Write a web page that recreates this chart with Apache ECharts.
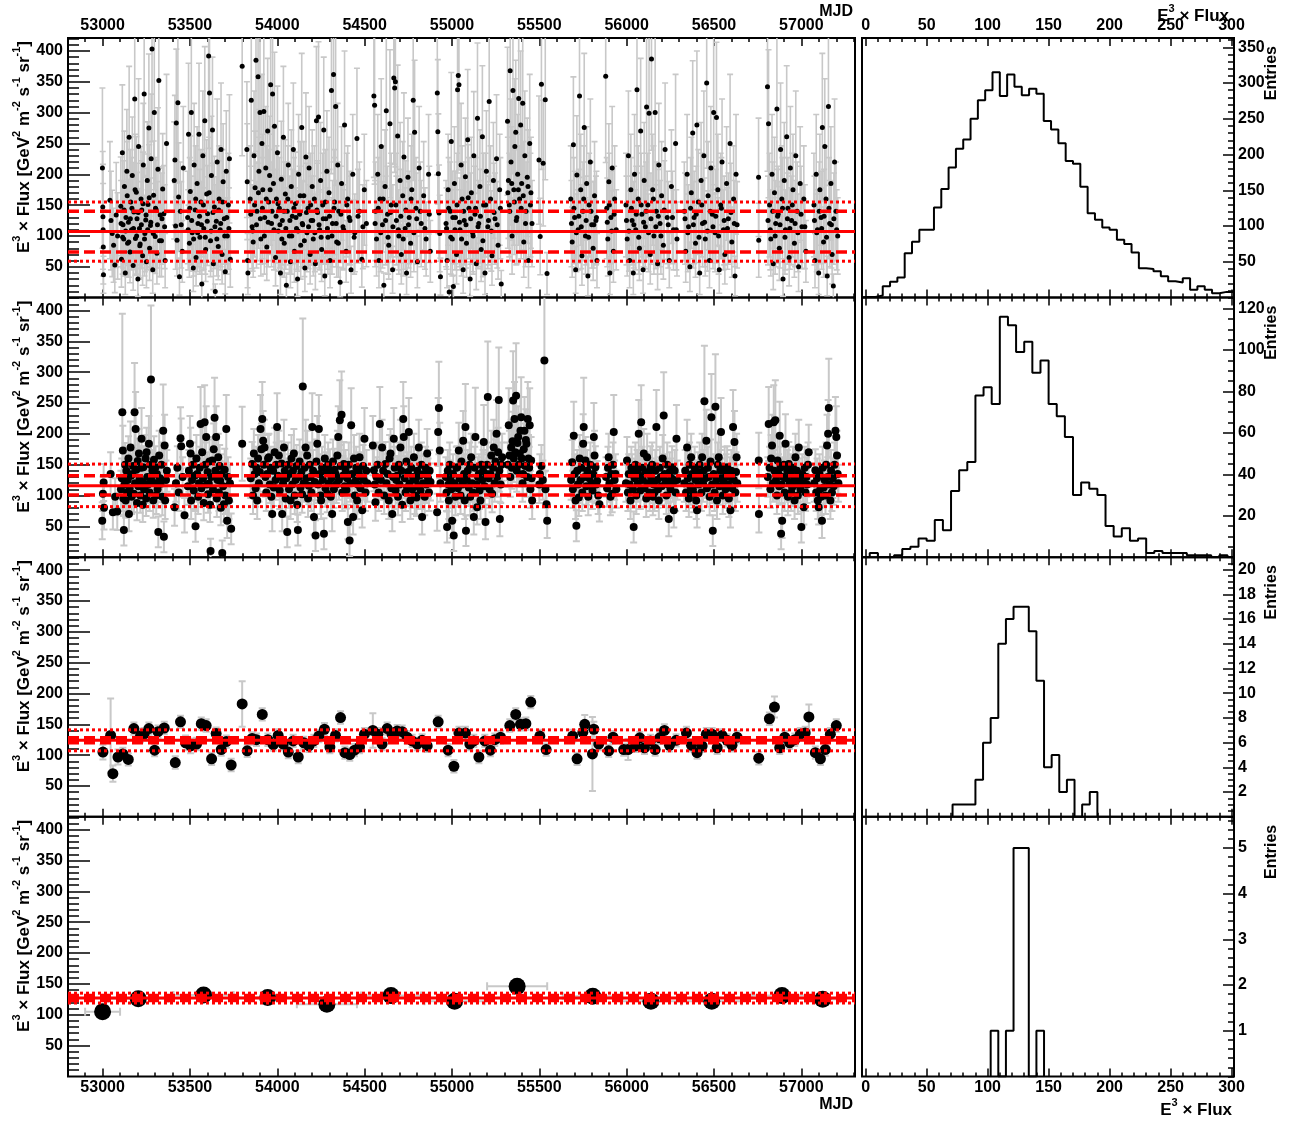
<!DOCTYPE html>
<html><head><meta charset="utf-8">
<script src="https://cdn.jsdelivr.net/npm/echarts@6/dist/echarts.min.js"></script>
<style>html,body{margin:0;padding:0;background:#fff}#c{width:1300px;height:1121px}</style>
</head><body><div id="c"></div>
<script>
// ---------- DATA: [MJD, E^3 x Flux, error] ----------
const row1Points = [
[52999,210,130],[53001,147,90],[53002,131,85],[53003,110,75],[53004,82,60],[53005,37,30],
[53042,158,95],[53048,125,80],[53055,104,70],[53063,85,60],[53070,53,45],[53078,134,85],[53086,100,70],
[53104,148,80],[53108,62,45],[53113,235,110],[53117,118,70],[53121,95,60],[53125,180,90],[53130,40,35],[53134,130,75],[53139,205,100],[53143,88,55],[53148,122,70],[53152,260,115],[53157,74,50],[53161,155,85],[53166,110,65],[53170,198,95],[53175,52,40],[53179,139,80],[53184,322,130],[53188,96,60],[53193,171,90],[53197,128,75],[53202,30,28],[53206,245,110],[53211,112,65],[53215,87,55],[53220,160,85],[53224,142,80],[53229,68,48],[53233,215,100],[53238,330,135],[53242,104,62],[53247,126,72],[53251,58,42],[53256,190,95],[53260,151,82],[53265,275,120],[53269,80,52],[53274,117,68],[53278,225,105],[53283,403,150],[53287,45,38],[53292,166,88],[53296,300,125],[53301,99,60],[53306,143,80],[53311,72,50],[53317,208,100],[53322,352,140],[53330,134,76],[53337,92,58],[53344,176,90],[53351,136,78],[53358,60,44],[53366,250,112],
[53106,120,70],[53115,98,60],[53123,142,80],[53132,108,65],[53141,165,88],[53150,90,57],[53159,128,74],[53168,145,82],[53177,112,66],[53186,175,90],[53195,100,62],[53204,138,80],[53213,84,54],[53222,118,70],[53231,152,84],[53240,95,60],[53249,134,76],[53258,110,65],[53267,162,86],[53276,122,72],[53290,104,62],[53303,145,82],[53314,118,70],[53326,92,58],[53340,128,74],[53355,115,68],
[53410,190,95],[53414,223,105],[53418,116,70],[53422,283,120],[53426,93,58],[53431,316,130],[53435,163,88],[53440,34,30],[53445,140,80],[53450,118,70],[53456,75,50],[53462,210,100],
[53487,130,75],[53492,265,115],[53497,88,55],[53502,172,90],[53508,300,125],[53513,105,62],[53519,48,38],[53524,215,100],[53530,142,80],[53535,65,46],[53541,185,92],[53546,120,70],[53552,265,115],[53557,98,60],[53563,155,85],[53568,22,22],[53574,230,105],[53579,112,66],[53585,287,120],[53590,78,52],[53596,168,88],[53601,136,78],[53607,392,150],[53612,332,135],[53618,92,58],[53623,198,96],[53629,272,118],[53634,55,42],[53640,147,82],[53645,10,12],[53651,124,72],[53656,220,102],[53662,83,54],[53667,160,86],[53673,110,65],[53678,240,108],[53684,70,48],[53690,188,94],[53696,128,74],[53702,42,36],[53708,205,98],[53714,100,62],[53720,150,84],[53726,225,104],[53731,62,45],
[53490,110,65],[53499,145,82],[53510,125,72],[53521,95,60],[53533,160,86],[53544,105,63],[53555,132,76],[53566,118,70],[53577,150,84],[53588,98,60],[53599,124,72],[53610,170,90],[53621,108,65],[53632,138,80],[53643,115,68],[53654,95,60],[53665,142,80],[53676,120,70],[53687,155,85],[53699,100,62],[53711,130,75],[53723,112,66],
[53799,375,145],[53826,240,110],[53828,188,94],[53830,60,44],[53832,40,35],
[53845,160,86],[53851,320,130],[53856,115,68],[53862,90,57],[53867,230,105],[53873,178,92],[53878,385,148],[53884,140,80],[53890,358,140],[53895,205,100],[53901,300,125],[53906,95,60],[53912,250,112],[53917,175,90],[53923,302,126],[53928,130,75],[53934,210,100],[53940,82,54],[53945,270,118],[53951,155,85],[53956,198,96],[53962,345,138],[53967,120,70],[53973,330,135],[53978,185,92],[53984,278,120],[53990,65,46],[53995,160,86],[54001,235,108],[54006,108,65],[54012,145,82],[54018,40,35],[54023,192,94],[54029,125,72],[54035,260,115],[54040,88,55],[54046,168,88],[54052,20,20],[54057,140,80],[54063,215,100],[54069,100,62],[54075,58,42],[54080,180,92],[54086,132,76],[54092,240,108],[54098,75,50],[54104,152,84],[54110,112,66],[54116,30,28],[54122,200,97],[54128,135,78],[54134,85,55],[54140,276,120],[54146,118,70],[54152,165,88],[54158,48,38],[54164,228,104],[54170,105,63],[54176,145,82],[54182,210,100],[54188,70,48],[54194,125,72],[54200,180,92],[54206,95,60],[54212,160,86],[54218,55,42],[54224,287,120],[54230,138,80],[54236,293,122],[54242,110,65],[54248,190,94],[54254,78,52],[54260,150,84],[54266,272,118],[54272,35,32],[54278,128,74],[54284,205,98],[54290,98,60],[54296,170,90],[54302,60,44],[54310,336,135],[54316,120,70],[54322,362,142],[54328,155,85],[54334,310,128],[54340,90,57],[54346,215,100],[54352,140,80],[54360,25,24],[54368,185,92],[54376,115,68],[54385,280,120],[54394,75,50],[54403,160,86],[54412,130,75],[54422,45,38],[54432,200,97],[54444,105,63],[54456,258,114],[54470,140,80],[54484,62,45],[54498,175,90],[54510,120,70],
[53848,135,78],[53859,108,65],[53870,150,84],[53881,118,70],[53892,170,90],[53903,128,74],[53915,145,82],[53926,100,62],[53937,160,86],[53948,122,72],[53959,175,90],[53970,140,80],[53981,110,65],[53993,132,76],[54004,152,84],[54015,118,70],[54026,95,60],[54038,140,80],[54049,112,66],[54060,160,86],[54072,125,72],[54083,100,62],[54095,145,82],[54107,130,75],[54119,108,65],[54131,165,88],[54143,120,70],[54155,92,58],[54167,138,80],[54179,115,68],[54191,150,84],[54203,125,72],[54215,105,63],[54227,142,80],[54239,118,70],[54251,98,60],[54263,128,74],[54275,155,85],[54287,112,66],[54299,132,76],[54313,100,62],[54325,145,82],[54337,120,70],[54349,88,55],[54364,135,78],[54380,110,65],[54398,150,84],[54416,125,72],[54440,98,60],[54462,132,76],[54490,115,68],
[54553,327,132],[54557,312,128],[54562,140,80],[54568,95,60],[54575,200,97],[54582,60,44],[54588,160,86],[54595,245,110],[54602,118,70],[54610,20,20],[54617,180,92],[54624,303,126],[54631,135,78],[54638,85,55],[54645,282,120],[54652,150,84],[54660,45,38],[54667,356,140],[54672,340,137],[54676,350,138],[54682,125,72],[54689,262,115],[54696,100,62],[54703,190,94],[54710,70,48],[54718,165,88],[54725,228,104],[54732,112,66],[54740,40,35],[54748,195,96],[54755,130,75],[54763,88,55],[54770,175,90],[54778,320,130],[54786,268,117],[54794,145,82],[54802,58,42],[54812,210,100],[54824,120,70],[54838,165,88],[54852,95,60],[54866,200,97],[54876,75,50],
[54560,120,70],[54578,145,82],[54592,105,63],[54606,160,86],[54620,125,72],[54634,98,60],[54648,138,80],[54662,115,68],[54679,150,84],[54693,110,65],[54707,132,76],[54721,95,60],[54736,142,80],[54751,118,70],[54766,160,86],[54782,105,63],[54798,128,74],[54818,140,80],[54845,112,66],[54870,135,78],
[54916,332,133],[54919,269,117],[54922,201,97],[54926,137,78],[54930,104,62],[54934,34,30],
[54966,120,70],[54972,60,44],[54978,175,90],[54984,9,10],[54990,140,80],[54996,253,112],[55002,95,60],[55008,18,18],[55014,185,92],[55020,130,75],[55026,70,48],[55032,337,135],[55036,360,140],[55040,345,138],[55046,110,65],[55052,215,100],[55058,160,86],[55064,45,38],[55070,125,72],[55077,196,95],[55083,88,55],[55090,256,114],[55097,145,82],[55104,30,28],[55111,170,90],[55118,105,63],[55125,230,104],[55132,135,78],[55139,55,42],[55146,291,122],[55153,120,70],[55160,180,92],[55167,78,52],[55174,261,115],[55181,150,84],[55189,40,35],[55197,205,98],[55205,115,68],[55213,318,130],[55221,160,86],[55229,68,48],[55237,190,94],[55246,128,74],[55255,225,104],[55264,85,55],[55273,175,90],[55282,22,22],
[54969,112,66],[54981,145,82],[54993,98,60],[55005,130,75],[55017,110,65],[55029,150,84],[55043,122,72],[55055,95,60],[55067,140,80],[55080,118,70],[55093,162,86],[55107,128,74],[55121,100,62],[55135,145,82],[55149,115,68],[55163,132,76],[55177,92,58],[55193,150,84],[55209,125,72],[55225,108,65],[55241,138,80],[55259,118,70],[55277,145,82],
[55318,286,120],[55323,190,94],[55328,150,84],[55333,368,142],[55338,220,102],[55344,100,62],[55349,336,135],[55354,175,90],[55360,245,110],[55365,268,117],[55371,130,75],[55376,200,97],[55382,323,130],[55387,160,86],[55393,280,120],[55399,185,92],[55405,315,128],[55411,90,57],[55417,230,105],[55424,140,80],[55431,195,96],[55438,60,44],[55445,250,112],[55452,170,90],[55458,120,70],
[55320,170,90],[55331,140,80],[55342,185,92],[55357,155,85],[55368,125,72],[55380,175,90],[55396,145,82],[55408,165,88],[55421,120,70],[55435,180,92],[55449,150,84],
[55498,223,104],[55505,99,62],[55512,346,138],[55522,218,102],[55534,321,130],[55544,39,34],
[55680,160,86],[55688,90,57],[55695,248,110],[55702,130,75],[55708,45,38],[55715,199,96],[55722,110,65],[55730,327,132],[55737,175,90],[55744,68,48],[55750,140,80],[55757,276,120],[55764,100,62],[55771,185,92],[55778,35,32],[55785,150,84],[55792,220,102],[55800,118,70],[55808,80,52],[55816,165,88],[55824,125,72],[55830,60,44],[55880,359,140],[55886,145,82],[55892,95,60],[55898,188,94],[55904,40,35],[55910,130,75],[55917,210,100],[55924,75,50],[55931,160,86],[55940,110,65],
[55684,120,70],[55698,145,82],[55712,105,63],[55726,132,76],[55740,115,68],[55754,160,86],[55768,125,72],[55782,98,60],[55796,140,80],[55812,118,70],[55827,130,75],[55889,122,72],[55901,150,84],[55914,108,65],[55928,135,78],
[55996,150,84],[56003,95,60],[56010,230,105],[56017,60,44],[56024,175,90],[56031,125,72],[56038,40,35],[56045,200,97],[56052,110,65],[56059,337,135],[56066,160,86],[56073,80,52],[56080,270,118],[56087,135,78],[56094,45,38],[56100,190,94],[56107,115,68],[56114,309,128],[56121,150,84],[56128,299,125],[56135,70,48],[56142,387,148],[56149,175,90],[56156,100,62],[56163,300,125],[56170,140,80],[56177,55,42],[56184,215,100],[56191,120,70],[56200,165,88],[56210,85,55],[56220,240,108],[56232,130,75],[56244,60,44],[56256,180,92],[56268,110,65],[56280,250,112],[56288,95,60],
[55999,125,72],[56013,108,65],[56027,145,82],[56041,118,70],[56055,135,78],[56069,98,60],[56083,150,84],[56097,122,72],[56111,140,80],[56125,105,63],[56139,128,74],[56153,160,86],[56167,115,68],[56181,132,76],[56196,100,62],[56215,142,80],[56238,118,70],[56262,130,75],[56284,110,65],
[56330,140,80],[56338,75,50],[56346,200,97],[56354,115,68],[56362,50,40],[56370,170,90],[56378,267,117],[56386,130,75],[56394,88,55],[56402,280,120],[56410,155,85],[56418,40,35],[56426,190,94],[56434,120,70],[56442,230,105],[56450,95,60],[56458,348,138],[56466,165,88],[56474,60,44],[56482,210,100],[56490,135,78],[56498,300,125],[56506,105,63],[56514,292,122],[56522,175,90],[56530,45,38],[56538,150,84],[56546,220,102],[56554,110,65],[56562,70,48],[56572,185,92],[56582,128,74],[56592,250,112],[56602,90,57],[56612,160,86],[56620,35,32],[56626,200,97],[56632,118,70],
[56334,128,74],[56350,105,63],[56366,145,82],[56382,118,70],[56398,135,78],[56414,98,60],[56430,150,84],[56446,122,72],[56462,108,65],[56478,140,80],[56494,115,68],[56510,132,76],[56526,100,62],[56542,145,82],[56558,125,72],[56577,112,66],[56597,138,80],[56616,120,70],
[56755,195,96],[56756,93,60],
[56806,342,137],[56812,282,120],[56818,150,84],[56825,95,60],[56832,200,97],[56839,55,42],[56846,170,90],[56853,120,70],[56860,306,126],[56867,135,78],[56874,80,52],[56881,240,108],[56888,160,86],[56895,30,28],[56902,190,94],[56909,110,65],[56916,261,115],[56923,145,82],[56930,65,46],[56937,210,100],[56944,125,72],[56952,175,90],[56960,88,55],[56968,230,105],[56976,140,80],[56984,50,40],[56993,185,92],[57003,115,68],[57014,160,86],[57026,75,50],
[56809,125,72],[56822,110,65],[56836,140,80],[56850,100,62],[56864,132,76],[56878,118,70],[56892,145,82],[56906,98,60],[56920,128,74],[56934,112,66],[56948,150,84],[56964,120,70],[56980,105,63],[56998,135,78],[57020,115,68],
[57072,150,84],[57078,60,44],[57085,200,97],[57092,110,65],[57099,40,35],[57106,175,90],[57113,130,75],[57120,276,120],[57127,90,57],[57134,245,110],[57141,160,86],[57148,35,32],[57155,310,128],[57162,120,70],[57169,185,92],[57176,70,48],[57183,19,19],[57190,220,102],[57198,140,80],[57208,100,62],
[57075,125,72],[57088,105,63],[57102,140,80],[57116,112,66],[57130,132,76],[57144,98,60],[57158,145,82],[57172,118,70],[57186,128,74],[57202,110,65]
];

const row2Points = [
[52998,59,30],[53002,103,28],[53006,121,30],[53008,80,35],
[53046,135,35],[53059,73,28],[53072,98,30],[53084,74,30],
[53105,110,30],[53110,128,32],[53113,235,160],[53116,173,40],[53119,95,28],[53122,44,25],[53126,118,30],[53129,150,35],[53132,92,28],[53136,140,32],[53140,105,30],[53144,125,30],[53148,160,36],[53151,70,28],[53155,112,30],[53160,178,42],[53163,132,32],[53166,98,28],[53170,135,32],[53174,148,34],[53179,103,30],[53183,235,80],[53186,120,30],[53189,208,60],[53193,142,34],[53197,88,28],[53201,156,36],[53205,115,30],[53208,168,40],[53212,128,32],[53216,100,28],[53220,145,34],[53223,192,50],[53227,122,30],[53230,85,28],[53233,146,34],[53237,110,30],[53242,113,30],[53246,160,38],[53249,95,28],[53252,170,40],[53256,130,32],[53260,118,30],[53265,184,45],[53269,105,30],[53273,150,36],[53277,288,120],[53281,125,32],[53285,140,34],[53290,92,28],[53294,158,38],[53298,120,30],[53303,146,34],[53307,100,30],[53311,135,32],[53315,110,30],[53319,41,25],[53324,165,40],[53328,128,32],[53332,119,30],[53337,150,36],[53342,98,30],[53347,205,75],[53351,33,25],[53355,181,50],[53358,92,30],[53363,125,32],[53368,140,34],
[53412,81,30],[53420,120,30],[53428,145,35],[53436,105,30],[53446,193,50],[53450,180,45],[53458,130,32],[53469,68,28],
[53488,115,30],[53494,140,34],[53500,184,45],[53504,168,42],[53507,92,30],[53512,125,32],[53517,150,36],[53522,108,30],[53527,132,32],[53532,50,25],[53537,160,38],[53542,135,32],[53547,98,28],[53552,120,30],[53556,145,34],[53561,216,60],[53566,112,30],[53570,170,40],[53575,128,32],[53579,88,28],[53584,219,60],[53588,150,36],[53593,195,50],[53597,118,30],[53601,138,32],[53604,102,30],[53608,119,30],[53612,155,36],[53615,85,28],[53618,10,20],[53622,130,32],[53628,157,38],[53632,110,30],[53636,175,42],[53641,226,65],[53645,140,34],[53650,195,50],[53654,95,30],[53658,125,32],[53662,162,38],[53666,105,30],[53670,148,34],[53673,124,32],[53677,80,28],[53681,135,32],[53685,7,20],[53690,115,30],[53694,86,28],[53699,142,34],[53703,100,30],[53708,208,55],[53713,59,28],[53718,130,32],[53723,92,30],[53729,120,30],[53736,46,25],
[53799,184,60],
[53848,128,32],[53856,151,36],[53861,100,30],[53866,168,40],[53871,135,32],[53876,112,30],[53880,145,34],[53885,92,30],[53890,160,38],[53895,120,30],[53900,138,32],[53904,208,55],[53909,175,42],[53914,224,60],[53919,189,48],[53923,150,36],[53927,178,45],[53932,130,32],[53937,105,30],[53942,135,32],[53947,160,38],[53952,162,38],[53957,118,30],[53962,145,34],[53966,98,30],[53971,70,28],[53976,140,34],[53980,113,30],[53985,170,40],[53990,125,32],[53994,150,36],[53999,211,55],[54004,132,32],[54009,165,40],[54014,108,30],[54019,130,32],[54024,152,36],[54028,70,28],[54033,120,30],[54038,178,45],[54043,140,34],[54048,95,30],[54052,128,32],[54057,41,25],[54062,150,36],[54067,110,30],[54071,135,32],[54076,92,30],[54081,160,38],[54086,118,30],[54090,140,34],[54095,168,40],[54100,100,30],[54105,125,32],[54110,148,34],[54114,85,28],[54118,44,25],[54123,130,32],[54128,155,36],[54133,113,30],[54138,138,32],[54142,102,30],[54146,277,110],[54151,120,30],[54156,145,34],[54162,178,45],[54166,128,32],[54171,165,40],[54176,95,30],[54181,116,30],[54186,150,36],[54190,130,32],[54195,105,30],[54200,211,55],[54205,140,34],[54210,65,28],[54215,122,30],[54219,35,25],[54224,155,36],[54229,184,45],[54233,118,30],[54238,208,55],[54242,135,32],[54247,100,30],[54251,92,30],[54256,145,34],[54261,125,32],[54267,38,25],[54272,160,38],[54276,112,30],[54281,138,32],[54286,103,30],[54291,150,36],[54296,120,30],[54301,141,34],[54306,98,30],[54310,128,32],[54314,70,28],[54319,155,36],[54324,110,30],[54328,142,34],[54333,135,32],[54338,118,30],[54344,165,40],[54349,195,50],[54353,125,32],[54358,222,65],[54363,148,34],[54368,231,70],[54372,105,30],[54376,132,32],[54381,151,36],[54386,115,30],[54391,140,34],[54396,109,30],[54400,128,32],[54404,57,28],[54409,150,36],[54414,27,25],[54418,120,30],[54423,214,60],[54428,135,32],[54434,65,28],[54439,160,38],[54444,100,30],[54448,124,32],[54452,145,34],[54457,92,30],[54462,118,30],[54466,138,32],[54471,162,38],[54476,112,30],[54481,130,32],[54486,76,28],[54491,148,34],[54495,125,32],[54499,192,50],[54505,105,30],[54510,140,34],[54515,120,30],
[54547,181,48],[54553,141,34],[54558,118,30],[54562,89,30],[54568,130,32],[54574,150,36],[54580,105,30],[54587,216,60],[54593,125,32],[54600,178,45],[54606,140,34],[54612,100,30],[54619,151,36],[54625,120,30],[54632,135,32],[54638,92,30],[54643,160,38],[54648,168,40],[54653,112,30],[54658,70,28],[54663,130,32],[54667,192,50],[54672,145,34],[54677,108,30],[54681,125,32],[54686,132,32],[54691,98,30],[54696,150,36],[54700,118,30],[54705,178,45],[54710,140,34],[54715,85,28],[54721,224,60],[54724,195,50],[54729,128,32],[54734,105,30],[54739,155,36],[54743,113,30],[54748,138,32],[54753,203,55],[54757,120,30],[54762,92,30],[54767,145,34],[54772,110,30],[54777,130,32],[54782,162,38],[54787,100,30],[54792,125,32],[54797,97,30],[54802,140,34],[54806,115,30],[54810,178,45],[54815,132,32],[54820,108,30],[54825,150,36],[54829,65,28],[54834,120,30],[54839,135,32],[54844,98,30],[54849,145,34],[54853,118,30],[54858,168,40],[54863,128,32],[54868,105,30],[54872,140,34],[54877,122,30],
[54915,73,30],[54921,203,55],[54925,242,75],[54930,173,45],[54934,120,30],
[54965,130,32],[54969,105,30],[54972,49,25],[54976,140,34],[54980,118,30],[54982,92,30],[54987,150,36],[54992,125,32],[54997,110,30],[55001,59,28],[55006,135,32],[55010,35,25],[55015,120,30],[55020,98,30],[55025,145,34],[55030,146,34],[55034,112,30],[55039,173,45],[55044,128,32],[55049,100,30],[55054,155,36],[55059,118,30],[55064,189,48],[55069,135,32],[55073,92,30],[55077,211,70],[55080,43,25],[55085,125,32],[55090,140,34],[55096,113,30],[55101,150,36],[55105,98,30],[55110,162,38],[55115,120,30],[55120,105,30],[55125,65,28],[55130,145,34],[55134,195,80],[55139,118,30],[55144,81,28],[55149,130,32],[55154,135,32],[55158,108,30],[55163,92,30],[55168,150,36],[55173,125,32],[55178,140,34],[55182,187,60],[55187,115,30],[55192,57,28],[55197,135,32],[55201,150,36],[55205,260,90],[55210,128,32],[55215,110,30],[55220,135,32],[55225,165,40],[55230,103,30],[55235,145,34],[55239,178,45],[55244,120,30],[55249,155,36],[55255,200,55],[55259,130,32],[55264,170,40],[55268,255,85],[55271,140,34],[55274,62,28],[55279,118,30],[55283,150,36],[55287,162,38],
[55320,150,36],[55325,214,60],[55329,165,40],[55334,130,32],[55339,178,45],[55343,145,34],[55347,188,48],[55350,254,80],[55354,160,38],[55358,224,60],[55362,170,40],[55367,262,85],[55371,140,34],[55375,185,48],[55379,195,50],[55383,150,36],[55388,168,40],[55392,205,55],[55396,227,65],[55400,160,38],[55404,120,30],[55407,135,32],[55411,175,42],[55415,205,55],[55419,148,34],[55423,190,50],[55426,184,48],[55430,130,32],[55434,224,60],[55438,160,38],[55442,145,34],[55445,214,60],[55449,110,30],[55453,157,38],[55456,128,32],[55459,92,30],
[55500,118,30],[55503,135,32],[55512,148,34],[55520,125,32],[55529,319,180],[55535,110,30],[55541,86,28],[55545,59,28],
[55682,125,32],[55688,154,36],[55692,110,30],[55697,197,55],[55702,135,32],[55707,92,30],[55712,51,25],[55717,140,34],[55721,118,30],[55726,97,30],[55731,160,38],[55736,125,32],[55741,145,34],[55746,105,30],[55751,184,48],[55754,211,80],[55759,130,32],[55764,157,38],[55769,115,30],[55774,140,34],[55780,98,30],[55786,128,32],[55792,150,36],[55798,120,30],[55804,108,30],[55808,135,32],[55812,195,55],[55816,165,40],[55821,146,34],[55826,118,30],[55831,124,32],[55837,100,30],[55844,86,28],[55882,130,32],[55888,112,30],[55893,145,34],[55897,162,38],[55902,120,30],[55907,98,30],[55912,135,32],[55917,103,30],[55922,150,36],[55926,203,60],[55931,125,32],[55936,135,32],[55941,110,30],
[55996,120,30],[56002,157,38],[56007,105,30],[56012,135,32],[56017,118,30],[56022,92,30],[56027,145,34],[56031,135,32],[56036,110,30],[56040,49,25],[56045,128,32],[56050,150,36],[56055,100,30],[56060,140,34],[56064,120,30],[56069,200,55],[56074,132,32],[56078,108,30],[56083,219,60],[56088,145,34],[56093,125,32],[56098,168,40],[56102,112,30],[56107,138,32],[56112,95,30],[56117,162,38],[56122,120,30],[56127,135,32],[56131,105,30],[56136,146,34],[56141,128,32],[56146,150,36],[56150,98,30],[56155,118,30],[56159,105,30],[56164,140,34],[56170,211,60],[56175,125,32],[56180,110,30],[56184,92,30],[56190,145,34],[56195,130,32],[56200,115,30],[56206,160,38],[56212,230,70],[56217,135,32],[56222,124,32],[56227,100,30],[56232,150,36],[56237,118,30],[56241,62,28],[56246,138,32],[56251,110,30],[56256,128,32],[56260,146,34],[56265,120,30],[56270,76,28],[56275,140,34],[56280,105,30],[56285,192,55],[56290,125,32],
[56330,120,30],[56335,140,34],[56340,105,30],[56346,178,45],[56351,128,32],[56356,95,30],[56360,150,36],[56365,115,30],[56369,162,38],[56374,135,32],[56379,110,30],[56384,103,30],[56389,145,34],[56394,125,32],[56398,92,30],[56403,76,28],[56408,138,32],[56413,118,30],[56418,150,36],[56423,130,32],[56428,105,30],[56432,162,38],[56437,120,30],[56441,140,34],[56445,253,90],[56450,128,32],[56456,189,50],[56460,112,30],[56465,145,34],[56470,130,32],[56475,98,30],[56480,155,36],[56485,227,70],[56489,118,30],[56493,43,25],[56498,135,32],[56503,105,30],[56508,244,85],[56513,125,32],[56517,92,30],[56522,150,36],[56527,162,38],[56531,115,30],[56536,140,34],[56540,203,55],[56545,128,32],[56550,100,30],[56556,122,30],[56561,145,34],[56566,110,30],[56570,135,32],[56575,146,34],[56580,118,30],[56585,95,30],[56590,130,32],[56594,76,28],[56599,140,34],[56604,112,30],[56609,211,60],[56613,125,32],[56617,187,50],[56622,105,30],[56626,138,32],[56629,162,38],[56633,120,30],
[56756,157,45],[56757,70,30],
[56808,130,32],[56813,216,60],[56818,145,34],[56823,110,30],[56827,160,38],[56832,181,50],[56837,120,30],[56842,219,60],[56846,140,34],[56851,222,65],[56855,125,32],[56860,100,30],[56864,157,38],[56869,135,32],[56873,115,30],[56876,197,55],[56880,145,34],[56884,38,25],[56887,118,30],[56890,59,28],[56895,130,32],[56900,150,36],[56904,105,30],[56909,184,48],[56914,128,32],[56919,140,34],[56923,98,30],[56928,151,36],[56933,120,30],[56938,135,32],[56942,105,30],[56947,113,30],[56952,145,34],[56957,125,32],[56961,92,30],[56966,162,38],[56971,118,30],[56975,140,34],[56980,100,30],[56985,178,45],[56990,128,32],[56995,110,30],[57000,49,25],[57005,135,32],[57009,120,30],[57014,81,28],[57019,145,34],[57024,105,30],[57029,130,32],[57033,118,30],[57038,150,36],[57042,170,45],
[57074,120,30],[57080,141,34],[57085,105,30],[57090,128,32],[57094,92,30],[57099,81,28],[57104,135,32],[57108,110,30],[57113,98,30],[57118,59,28],[57122,145,34],[57128,113,30],[57133,125,32],[57138,100,30],[57142,150,36],[57147,181,50],[57151,130,32],[57153,200,55],[57157,242,80],[57161,118,30],[57166,92,30],[57170,140,34],[57175,105,30],[57180,128,32],[57185,115,30],[57190,150,36],[57195,205,55],[57200,195,50],[57204,165,40],[57208,135,32],[57212,120,30]
];

const row3Points = [
[53002,105,12],[53046,132,60],[53059,70,13],[53088,97,12],[53116,102,10],[53147,93,10],[53179,143,10],[53217,131,10],[53237,134,10],[53265,143,10],[53298,108,10],[53317,138,10],[53353,144,10],[53416,88,10],[53446,154,10],[53475,120,12],[53504,115,12],[53538,118,10],[53565,151,10],[53593,148,10],[53624,94,10],[53650,135,10],[53679,109,10],[53708,122,10],[53736,84,10],[53799,183,37],[53828,107,10],[53856,127,10],[53881,125,10],[53914,166,10],[53946,125,10],[53977,117,10],[54005,132,10],[54034,118,10],[54063,105,10],[54091,123,10],[54120,97,10],[54152,120,10],[54181,115,10],[54209,123,10],[54238,131,10],[54270,142,10],[54301,113,10],[54333,132,10],[54362,161,10],[54387,104,10],[54415,101,10],[54442,108,10],[54471,113,10],[54499,134,10],[54547,140,28],[54576,134,10],[54600,118,10],[54629,143,10],[54657,134,10],[54686,139,10],[54715,138,10],[54743,129,10],[54772,123,10],[54801,118,10],[54829,124,10],[54858,115,10],[54921,154,10],[54978,108,10],[55011,82,10],[55040,136,10],[55077,136,10],[55102,118,10],[55125,123,10],[55154,97,10],[55188,123,10],[55220,108,10],[55245,125,10],[55278,129,10],[55331,148,10],[55365,166,10],[55392,150,10],[55423,151,10],[55451,186,10],[55503,131,10],[55539,109,10],[55691,131,10],[55716,94,10],[55749,137,10],[55760,150,15],[55804,102,60],[55812,142,12],[55840,118,10],[55897,107,10],[55922,129,10],[55983,109,10],[56008,109,17],[56050,115,10],[56075,128,10],[56102,112,10],[56136,123,10],[56163,109,10],[56189,128,10],[56216,140,10],[56245,116,10],[56283,124,10],[56342,136,10],[56371,116,10],[56403,104,10],[56432,115,10],[56456,134,10],[56489,134,10],[56518,112,10],[56546,132,10],[56575,124,10],[56603,116,10],[56632,129,10],[56756,95,10],[56817,159,10],[56846,178,17],[56876,112,10],[56905,129,10],[56933,120,10],[56962,125,10],[56994,134,10],[57022,136,10],[57043,162,20],[57080,104,10],[57109,94,10],[57137,109,10],[57166,134,10],[57200,148,10]
];

// [MJD, flux, error, MJD half-width]
const row4Points = [
[53000,105,4,100],[53204,126,4,172],[53578,132,4,172],[53945,128,4,172],[54284,117,4,172],[54651,131,4,172],[55015,122,4,172],[55373,146,4,172],[55806,130,4,172],[56139,122,4,172],[56487,122,4,172],[56889,131,4,172],[57122,125,4,100]
];

// Fit lines: [mean, +dashed, -dashed, +dotted, -dotted]
const row1Lines = [107, 140, 74, 155, 59];
const row2Lines = [116, 132, 101, 151, 82];
const row3Lines = [124, 128, 120, 141, 107];
const row4Lines = [127, 131, 123, 135, 119];

// Histograms (E^3 x Flux distribution): first bin low edge, bin width, counts
const hist1Start = -4, hist1Width = 6;
const hist1Counts = [1,1,3,16,22,28,62,78,95,95,126,152,182,208,221,250,276,290,315,282,312,295,283,292,285,247,235,216,191,187,155,118,109,98,95,81,75,63,41,40,37,30,23,21,27,11,16,11,6,8,8];
const hist2Start = -10/3, hist2Width = 20/3;
const hist2Counts = [0,2,0,0,1,4,5,9,8,18,13,32,42,46,78,82,74,116,112,99,104,89,95,74,68,58,30,36,33,30,15,10,14,8,9,2,3,2,2,2,1,1,1,0,1,0];
const hist3Start = 71.25, hist3Width = 6.25;
const hist3Counts = [1,1,1,3,6,8,14,16,17,17,15,11,4,5,2,3,0,1,2];
const hist4Start = 102.5, hist4Width = 6.25;
const hist4Counts = [1,0,1,5,5,0,1];

// Tick labels
const mjdTicks = [53000,53500,54000,54500,55000,55500,56000,56500,57000];
const fluxTicks = [50,100,150,200,250,300,350,400];
const histXTicks = [0,50,100,150,200,250,300];
const histYTicks = [[50,100,150,200,250,300,350],[20,40,60,80,100,120],[2,4,6,8,10,12,14,16,18,20],[1,2,3,4,5]];

// ---------- LAYOUT ----------
const FONT = 'Liberation Sans';
const ROW_TOP = 38, ROW_H = 259.6;
const LX = 68, LW = 787, RX = 862, RW = 372;
const MJD_MIN = 52802, MJD_MAX = 57307, FLUX_MAX = 421;
const HX_MIN = -3, HX_MAX = 302;
const HY_MAX = [363, 125.3, 21.0, 5.68];
const HY_MINOR = [10, 5, 0.5, 0.2];

function seq(a, b, s) { const r = []; for (let i = 0; a + i * s <= b + 1e-9; i++) r.push(+(a + i * s).toFixed(4)); return r; }
function minors(a, b, s, majors) { return seq(a, b, s).filter(v => !majors.some(m => Math.abs(m - v) < 1e-6)); }

const grids = [], xAxes = [], yAxes = [], series = [];
const labelStyle = { color: '#000', fontFamily: FONT, fontWeight: 'bold', fontSize: 16, formatter: v => String(v) };

function addAxis(list, grid, pos, min, max, ticks, len, labels, margin) {
  list.push({
    type: 'value', gridIndex: grid, position: pos, min: min, max: max,
    axisLine: { show: false, onZero: false }, splitLine: { show: false },
    axisTick: { show: true, inside: true, length: len, customValues: ticks, lineStyle: { color: '#000', width: 1.5 } },
    axisLabel: labels ? Object.assign({ show: true, customValues: labels, margin: margin }, labelStyle) : { show: false }
  });
  return list.length - 1;
}

const rowPoints = [row1Points, row2Points, row3Points, row4Points];
const rowLines = [row1Lines, row2Lines, row3Lines, row4Lines];
const hists = [[hist1Start, hist1Width, hist1Counts], [hist2Start, hist2Width, hist2Counts], [hist3Start, hist3Width, hist3Counts], [hist4Start, hist4Width, hist4Counts]];
const markSize = [5, 8, 11, 17];
const errW = [1.6, 2, 2, 2];
const capW = [6, 7, 7, 8];

const mjdMinor = minors(52900, 57300, 100, mjdTicks);
const fluxMinor = minors(10, 420, 10, fluxTicks);
const hxMinor = minors(0, 300, 10, histXTicks);

function errRender(r) {
  return function (params, api) {
    const x = api.value(0), y = api.value(1), e = api.value(2), ex = api.value(3) || 0;
    const st = { stroke: '#c8c8c8', lineWidth: errW[r] };
    const lo = Math.max(y - e, 0), hi = Math.min(y + e, FLUX_MAX);
    const a = api.coord([x, lo]), b = api.coord([x, hi]);
    const c = capW[r] / 2;
    const ch = [{ type: 'line', shape: { x1: a[0], y1: a[1], x2: b[0], y2: b[1] }, style: st }];
    if (y - e > 0) ch.push({ type: 'line', shape: { x1: a[0] - c, y1: a[1], x2: a[0] + c, y2: a[1] }, style: st });
    if (y + e < FLUX_MAX) ch.push({ type: 'line', shape: { x1: b[0] - c, y1: b[1], x2: b[0] + c, y2: b[1] }, style: st });
    if (ex) {
      const l = api.coord([x - ex, y]), rr = api.coord([x + ex, y]);
      ch.push({ type: 'line', shape: { x1: l[0], y1: l[1], x2: rr[0], y2: rr[1] }, style: st });
      ch.push({ type: 'line', shape: { x1: l[0], y1: l[1] - c, x2: l[0], y2: l[1] + c }, style: st });
      ch.push({ type: 'line', shape: { x1: rr[0], y1: rr[1] - c, x2: rr[0], y2: rr[1] + c }, style: st });
    }
    return { type: 'group', children: ch };
  };
}

const lineStyles = [
  { width: 3, type: 'solid' },
  { width: 3.5, type: [11, 5] }, { width: 3.5, type: [11, 5] },
  { width: 3, type: [3, 3] }, { width: 3, type: [3, 3] }
];

for (let r = 0; r < 4; r++) {
  const top = ROW_TOP + r * ROW_H;
  grids.push({ left: LX, top: top, width: LW, height: ROW_H, show: true, borderColor: '#000', borderWidth: 2, backgroundColor: 'transparent' });
  grids.push({ left: RX, top: top, width: RW, height: ROW_H, show: true, borderColor: '#000', borderWidth: 2, backgroundColor: 'transparent' });
  const gL = 2 * r, gR = 2 * r + 1;

  const xb = addAxis(xAxes, gL, 'bottom', MJD_MIN, MJD_MAX, mjdTicks, 8, r === 3 ? mjdTicks : null, 3);
  addAxis(xAxes, gL, 'bottom', MJD_MIN, MJD_MAX, mjdMinor, 4, null, 0);
  addAxis(xAxes, gL, 'top', MJD_MIN, MJD_MAX, mjdTicks, 8, r === 0 ? mjdTicks : null, 4);
  addAxis(xAxes, gL, 'top', MJD_MIN, MJD_MAX, mjdMinor, 4, null, 0);
  const yl = addAxis(yAxes, gL, 'left', 0, FLUX_MAX, fluxTicks, 22, fluxTicks, 5);
  addAxis(yAxes, gL, 'left', 0, FLUX_MAX, fluxMinor, 11, null, 0);

  const hx = addAxis(xAxes, gR, 'bottom', HX_MIN, HX_MAX, histXTicks, 8, r === 3 ? histXTicks : null, 3);
  addAxis(xAxes, gR, 'bottom', HX_MIN, HX_MAX, hxMinor, 4, null, 0);
  addAxis(xAxes, gR, 'top', HX_MIN, HX_MAX, histXTicks, 8, r === 0 ? histXTicks : null, 4);
  addAxis(xAxes, gR, 'top', HX_MIN, HX_MAX, hxMinor, 4, null, 0);
  const hy = addAxis(yAxes, gR, 'right', 0, HY_MAX[r], histYTicks[r], 11, histYTicks[r], 4);
  addAxis(yAxes, gR, 'right', 0, HY_MAX[r], minors(0, HY_MAX[r], HY_MINOR[r], histYTicks[r]), 6, null, 0);

  const pts = rowPoints[r];
  series.push({ type: 'custom', xAxisIndex: xb, yAxisIndex: yl, data: pts, renderItem: errRender(r), encode: { x: 0, y: 1 }, clip: true, silent: true, z: 1 });
  series.push({ type: 'scatter', xAxisIndex: xb, yAxisIndex: yl, data: pts.map(p => [p[0], p[1]]), symbol: 'circle', symbolSize: markSize[r], itemStyle: { color: '#000', opacity: 1 }, silent: true, z: 2, large: false });
  rowLines[r].forEach((v, i) => {
    series.push({ type: 'line', xAxisIndex: xb, yAxisIndex: yl, data: [[MJD_MIN, v], [MJD_MAX, v]], symbol: 'none', silent: true, z: 3,
      lineStyle: { color: '#ff0000', width: lineStyles[i].width, type: lineStyles[i].type, cap: 'butt' } });
  });

  const [hs, hw, hc] = hists[r];
  const step = [[hs, 0]];
  hc.forEach((c, k) => { step.push([hs + k * hw, c], [hs + (k + 1) * hw, c]); });
  step.push([hs + hc.length * hw, 0]);
  series.push({ type: 'line', xAxisIndex: hx, yAxisIndex: hy, data: step, symbol: 'none', silent: true, clip: true, z: 2,
    lineStyle: { color: '#000', width: 2 } });
}

// ---------- TEXT ----------
const richBase = {
  n: { fontSize: 17, fontWeight: 'bold', fontFamily: FONT, fill: '#000', color: '#000', lineHeight: 22, verticalAlign: 'bottom' },
  s: { fontSize: 11, fontWeight: 'bold', fontFamily: FONT, fill: '#000', color: '#000', lineHeight: 22, verticalAlign: 'top' }
};
const yTitle = '{n|E}{s|3}{n| × Flux [GeV}{s|2}{n| m}{s|-2}{n| s}{s|-1}{n| sr}{s|-1}{n|]}';
const hTitle = '{n|E}{s|3}{n| × Flux}';
const graphics = [];
for (let r = 0; r < 4; r++) {
  const top = ROW_TOP + r * ROW_H;
  graphics.push({ type: 'text', x: 22, y: top + 3, rotation: Math.PI / 2,
    style: { text: yTitle, rich: richBase, align: 'right', verticalAlign: 'middle' } });
  graphics.push({ type: 'text', x: 1272, y: top + 8, rotation: Math.PI / 2,
    style: { text: 'Entries', fontSize: 16, fontWeight: 'bold', fontFamily: FONT, fill: '#000', align: 'right', verticalAlign: 'middle' } });
}
graphics.push({ type: 'text', x: 853, y: 12, style: { text: 'MJD', fontSize: 16, fontWeight: 'bold', fontFamily: FONT, fill: '#000', align: 'right', verticalAlign: 'middle' } });
graphics.push({ type: 'text', x: 853, y: 1105, style: { text: 'MJD', fontSize: 16, fontWeight: 'bold', fontFamily: FONT, fill: '#000', align: 'right', verticalAlign: 'middle' } });
graphics.push({ type: 'text', x: 1229, y: 14, style: { text: hTitle, rich: richBase, align: 'right', verticalAlign: 'middle' } });
graphics.push({ type: 'text', x: 1232, y: 1108, style: { text: hTitle, rich: richBase, align: 'right', verticalAlign: 'middle' } });

const chart = echarts.init(document.getElementById('c'), null, { renderer: 'canvas' });
chart.setOption({
  animation: false,
  backgroundColor: '#fff',
  grid: grids, xAxis: xAxes, yAxis: yAxes, series: series,
  graphic: { elements: graphics }
});
</script></body></html>
